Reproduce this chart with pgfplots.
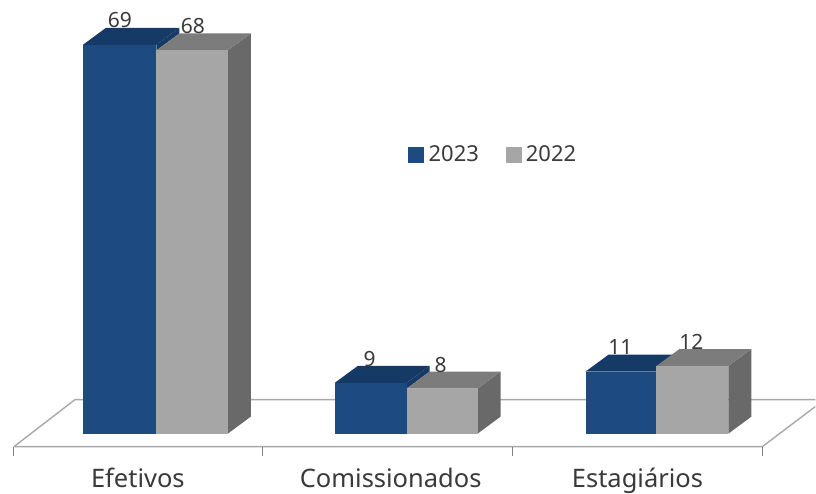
\documentclass[border=0pt]{standalone}
\usepackage{fontspec}
\setmainfont{Noto Sans}
\usepackage{pgfplots}
\pgfplotsset{compat=1.18}
\definecolor{bluefront}{HTML}{1D4A80}
\definecolor{bluetop}{HTML}{163A66}
\definecolor{grayfront}{HTML}{A6A6A6}
\definecolor{graytop}{HTML}{7C7C7C}
\definecolor{grayside}{HTML}{696969}
\definecolor{floorline}{HTML}{A8A8A8}
\definecolor{txt}{HTML}{3A3A3A}
\pgfplotsset{
  fc/.style={forget plot, draw=none, fill=#1, line width=0pt},
  fl/.style={forget plot, draw=floorline, line width=1.4pt},
}
\newcommand{\lbl}[3]{\node[text=txt, font=\fontsize{21}{24}\selectfont, inner sep=0pt] at (axis cs:#1,#2) {#3};}
\newcommand{\cat}[2]{\node[text=txt, font=\fontsize{25.5}{28}\selectfont, inner sep=0pt, anchor=base] at (axis cs:#1,-9.57) {#2};}
\begin{document}
\begin{tikzpicture}[x=1pt,y=1pt]
\begin{axis}[
  scale only axis, width=816pt, height=494pt,
  xmin=0, xmax=816, ymin=-10.638, ymax=76.95,
  axis lines=none, clip=false,
  legend style={at={(axis cs:409,49.5)}, anchor=west, draw=none, fill=none,
    legend columns=2, inner sep=0pt, outer sep=0pt,
    font=\fontsize{22}{24}\selectfont, text=txt,
    /tikz/every odd column/.append style={column sep=3pt},
    /tikz/every even column/.append style={column sep=25pt}},
]
\path (axis cs:0,-10.638) rectangle (axis cs:816,76.95);
% floor
\addplot[fl] coordinates {(14,-2.305)(763,-2.305)(816,4.8)};
\addplot[fl] coordinates {(14,-2.305)(75,6.028)(816,6.028)};
\addplot[fl, line width=1pt, draw=gray] coordinates {(14,-2.305)(14,-3.9)};
\addplot[fl, line width=1pt, draw=gray] coordinates {(263,-2.305)(263,-3.9)};
\addplot[fl, line width=1pt, draw=gray] coordinates {(513,-2.305)(513,-3.9)};
\addplot[fl, line width=1pt, draw=gray] coordinates {(763,-2.305)(763,-3.9)};
% Efetivos 2023 = 69
\addplot[fc=bluetop] coordinates {(156.5,68)(179.5,71.01)(179.5,72.01)(156.5,69)} --cycle;
\addplot[fc=bluetop] coordinates {(83,69)(106,72.01)(179.5,72.01)(156.5,69)} --cycle;
\addplot[fc=bluefront] coordinates {(83,0)(83,69)(156.5,69)(156.5,0)} --cycle;
% Efetivos 2022 = 68
\addplot[fc=grayside] coordinates {(228,0)(251,3.01)(251,71.01)(228,68)} --cycle;
\addplot[fc=graytop] coordinates {(156.5,68)(179.5,71.01)(251,71.01)(228,68)} --cycle;
\addplot[fc=grayfront] coordinates {(156.5,0)(156.5,68)(228,68)(228,0)} --cycle;
% Comissionados 2023 = 9
\addplot[fc=bluetop] coordinates {(407,8)(430,11.01)(430,12.01)(407,9)} --cycle;
\addplot[fc=bluetop] coordinates {(335,9)(358,12.01)(430,12.01)(407,9)} --cycle;
\addplot[fc=bluefront] coordinates {(335,0)(335,9)(407,9)(407,0)} --cycle;
% Comissionados 2022 = 8
\addplot[fc=grayside] coordinates {(478,0)(501,3.01)(501,11.01)(478,8)} --cycle;
\addplot[fc=graytop] coordinates {(407,8)(430,11.01)(501,11.01)(478,8)} --cycle;
\addplot[fc=grayfront] coordinates {(407,0)(407,8)(478,8)(478,0)} --cycle;
% Estagiarios 2023 = 11
\addplot[fc=bluetop] coordinates {(586,11)(609,14.01)(680,14.01)(657,11)} --cycle;
\addplot[fc=bluefront] coordinates {(586,0)(586,11)(657,11)(657,0)} --cycle;
% Estagiarios 2022 = 12
\addplot[fc=grayside] coordinates {(729,0)(752,3.01)(752,15.01)(729,12)} --cycle;
\addplot[fc=graytop] coordinates {(657,12)(680,15.01)(752,15.01)(729,12)} --cycle;
\addplot[fc=grayfront] coordinates {(657,0)(657,12)(729,12)(729,0)} --cycle;
% legend
\addlegendimage{only marks, mark=square*, mark size=7.5pt, color=bluefront}
\addlegendentry{2023}
\addlegendimage{only marks, mark=square*, mark size=7.5pt, color=grayfront}
\addlegendentry{2022}
% labels
\lbl{120}{73.4}{69}
\lbl{193}{72.4}{68}
\lbl{370}{13.3}{9}
\lbl{441}{12.2}{8}
\lbl{621}{15.4}{11}
\lbl{692}{16.3}{12}
\cat{138}{Efetivos}
\cat{391}{Comissionados}
\cat{638}{Estagiários}
\end{axis}
\end{tikzpicture}
\end{document}
